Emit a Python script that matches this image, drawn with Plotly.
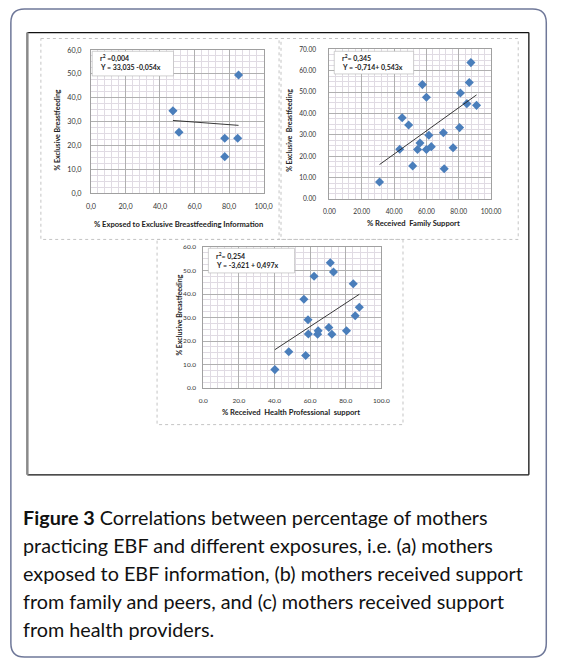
import plotly.graph_objects as go

W, H = 566, 667

# ---------------- data ----------------
# (a) exposure to EBF information
info_x = [47.5, 51.0, 77.5, 85.0, 77.5, 85.5]
info_y = [34.5, 25.5, 23.0, 23.0, 15.3, 49.5]
info_fit = [33.035, -0.054]

# (b) family support
fam_x = [31.0, 45.0, 43.5, 49.0, 51.5, 56.0, 54.5, 57.5, 60.0, 60.0, 61.5,
         63.0, 70.5, 71.0, 76.5, 80.5, 81.0, 85.0, 86.5, 87.5, 91.0]
fam_y = [8.0, 38.0, 23.3, 34.6, 15.5, 26.2, 23.2, 53.5, 47.6, 23.2, 29.8,
         24.5, 31.0, 14.2, 24.0, 33.4, 49.6, 44.6, 54.5, 63.8, 43.8]
fam_fit = [-0.714, 0.543]

# (c) health professional support
hp_x = [40.2, 48.0, 57.5, 56.5, 58.8, 59.0, 62.2, 64.2, 64.5, 70.5, 71.3,
        72.2, 73.1, 80.4, 84.2, 85.3, 87.6]
hp_y = [7.9, 15.5, 13.9, 37.8, 29.1, 23.0, 47.6, 22.9, 24.4, 25.8, 53.3,
        22.9, 49.4, 24.4, 44.4, 30.8, 34.4]
hp_fit = [-3.621, 0.497]

x_ticks = [0, 20, 40, 60, 80, 100]
a_xtext = ["0,0", "20,0", "40,0", "60,0", "80,0", "100,0"]
a_yticks = [0, 10, 20, 30, 40, 50, 60]
a_ytext = ["0,0", "10,0", "20,0", "30,0", "40,0", "50,0", "60,0"]

caption = [
    "<b>Figure 3</b> Correlations between percentage of mothers",
    "practicing EBF and different exposures, i.e. (a) mothers",
    "exposed to EBF information, (b) mothers received support",
    "from family and peers, and (c) mothers received support",
    "from health providers.",
]

# ---------------- helpers ----------------
def px(x):
    return x / W

def py(y):
    return 1 - y / H

FONT = "Lato"
BLUE = "#4a7ebb"
GRID = "#e0dbe3"
MAJ = "#b0b0b0"

fig = go.Figure()

def add_panel(i, xs, ys, fit, xdom, ydom, yrange, xfmt, yfmt, xstand, ystand, tsize,
              xtext=None, ytext=None, ydt=10):
    xa = "x" if i == 1 else f"x{i}"
    ya = "y" if i == 1 else f"y{i}"
    fig.add_trace(go.Scatter(x=xs, y=ys, mode="markers", xaxis=xa, yaxis=ya,
                             marker=dict(symbol="diamond", size=7, color=BLUE),
                             showlegend=False, hoverinfo="skip"))
    lo, hi = min(xs), max(xs)
    fig.add_trace(go.Scatter(x=[lo, hi], y=[fit[0] + fit[1] * lo, fit[0] + fit[1] * hi],
                             mode="lines", xaxis=xa, yaxis=ya,
                             line=dict(color="#222222", width=0.9),
                             showlegend=False, hoverinfo="skip"))
    xkey = "xaxis" if i == 1 else f"xaxis{i}"
    ykey = "yaxis" if i == 1 else f"yaxis{i}"
    xd = dict(domain=xdom, range=[0, 100], anchor=ya, showgrid=True,
              gridcolor=MAJ, gridwidth=1, zeroline=False,
              showline=True, linecolor="#a0a0a0", linewidth=1, mirror=True,
              ticks="outside", ticklen=xstand, tickcolor="rgba(255,255,255,0)",
              tickfont=dict(family=FONT, size=tsize, color="#333333"),
              minor=dict(dtick=4, showgrid=True, gridcolor=GRID, gridwidth=1),
              fixedrange=True)
    yd = dict(domain=ydom, range=yrange, anchor=xa, showgrid=True,
              gridcolor=MAJ, gridwidth=1, zeroline=False,
              showline=True, linecolor="#a0a0a0", linewidth=1, mirror=True,
              ticks="outside", ticklen=ystand, tickcolor="rgba(255,255,255,0)",
              tickfont=dict(family=FONT, size=tsize, color="#333333"),
              minor=dict(dtick=2.5, showgrid=True, gridcolor=GRID, gridwidth=1),
              fixedrange=True)
    if xtext:
        xd.update(tickmode="array", tickvals=x_ticks, ticktext=xtext)
    else:
        xd.update(tickmode="array", tickvals=x_ticks, tickformat=xfmt)
    if ytext:
        yd.update(tickmode="array", tickvals=a_yticks, ticktext=ytext)
    else:
        yd.update(dtick=ydt, tick0=0, tickformat=yfmt)
    fig.update_layout({xkey: xd, ykey: yd})

add_panel(1, info_x, info_y, info_fit,
          [px(86.7), px(265)], [py(191), py(45.7)], [0, 60], None, None, 6, 7, 7.2,
          xtext=a_xtext, ytext=a_ytext)
add_panel(2, fam_x, fam_y, fam_fit,
          [px(333), px(500)], [py(197), py(45)], [0, 70], ".2f", ".2f", 6, 11, 6.6)
add_panel(3, hp_x, hp_y, hp_fit,
          [px(202.7), px(386.7)], [py(389), py(245.7)], [0, 60], ".1f", ".1f", 6, 5, 6.5)

shapes = []
# outer rounded frame
r = 14
path = (f"M {4+r},{4} L {557-r},{4} Q {557},{4} {557},{4+r} "
        f"L {557},{662-r} Q {557},{662} {557-r},{662} "
        f"L {4+r},{662} Q {4},{662} {4},{662-r} L {4},{4+r} Q {4},{4} {4+r},{4} Z")

def conv_path(p):
    out = []
    for tok in p.split(" "):
        if "," in tok:
            a, b = tok.split(",")
            out.append(f"{px(float(a)):.5f},{py(float(b)):.5f}")
        else:
            out.append(tok)
    return " ".join(out)

shapes.append(dict(type="path", xref="paper", yref="paper", path=conv_path(path),
                   line=dict(color="#6f7899", width=1.5), layer="below"))

def line(xa, ya, xb, yb, color, width, dash="solid"):
    shapes.append(dict(type="line", xref="paper", yref="paper",
                       x0=px(xa), y0=py(ya), x1=px(xb), y1=py(yb),
                       line=dict(color=color, width=width, dash=dash)))

def rect(xa, ya, xb, yb, color, width, dash="solid", fill="rgba(0,0,0,0)", layer="above"):
    shapes.append(dict(type="rect", xref="paper", yref="paper",
                       x0=px(xa), y0=py(ya), x1=px(xb), y1=py(yb),
                       line=dict(color=color, width=width, dash=dash), fillcolor=fill, layer=layer))

# inner box
line(21, 28, 539, 28, "#111111", 1.3)
line(539, 28, 539, 477, "#111111", 1.3)
line(21, 477, 539, 477, "#111111", 1.3)
line(21, 28, 21, 477, "#8a8a8a", 2.5)

# panel frames (dotted)
rect(35, 34, 281, 238, "#c4c4c4", 1, "dot", layer="below")
rect(283, 34, 528, 238, "#c4c4c4", 1, "dot", layer="below")
rect(155, 238, 409, 426, "#c4c4c4", 1, "dot", layer="below")

# equation boxes
rect(88, 47, 172, 72, "#b0b0b0", 0.6, fill="white")
rect(338, 47, 420, 70, "#b0b0b0", 0.6, fill="white")
rect(208, 247, 297, 272, "#b0b0b0", 0.6, fill="white")

fig.update_layout(shapes=shapes)

ann = []
def text(t, x, y, size=7.0, bold=True, angle=0, xanchor="center", color="#222222"):
    ann.append(dict(text=(f"<b>{t}</b>" if bold else t), x=px(x), y=py(y),
                    xref="paper", yref="paper", showarrow=False, textangle=angle,
                    xanchor=xanchor, yanchor="middle",
                    font=dict(family=FONT, size=size, color=color)))

# equations
text("r<sup>2</sup> =0,004", 94, 54, xanchor="left")
text("Y = 33,035 -0,054x", 94, 63.5, xanchor="left")
text("r<sup>2</sup>= 0,345", 344, 54, xanchor="left")
text("Y = -0,714+ 0,543x", 344, 63, xanchor="left")
text("r<sup>2</sup>= 0,254", 214, 255, xanchor="left")
text("Y = -3,621 + 0,497x", 214, 264.5, xanchor="left")

# axis titles
text("% Exclusive Breastfeeding", 52, 127, size=7.0, angle=-90)
text("% Exposed to Exclusive Breastfeeding Information", 177, 222, size=7.6)
text("% Exclusive  Breastfeeding", 291, 127, size=7.0, angle=-90)
text("% Received  Family Support", 420, 221, size=7.6)
text("% Exclusive Breastfeeding", 178, 315, size=7.0, angle=-90)
text("% Received  Health Professional  support", 293, 413, size=7.6)

# caption
cap_y = [520, 548.5, 577, 605.5, 633.5]
for t, yy in zip(caption, cap_y):
    ann.append(dict(text=t, x=px(14), y=py(yy), xref="paper", yref="paper",
                    showarrow=False, xanchor="left", yanchor="middle",
                    font=dict(family=FONT, size=19.8, color="#111111")))

fig.update_layout(annotations=ann, width=W, height=H,
                  margin=dict(l=0, r=0, t=0, b=0),
                  paper_bgcolor="white", plot_bgcolor="white",
                  showlegend=False)

fig.write_html("out.html", config=dict(displayModeBar=False),
               post_script="document.body.style.margin='0';document.body.style.padding='0';"
                           "document.body.style.overflow='hidden';")
